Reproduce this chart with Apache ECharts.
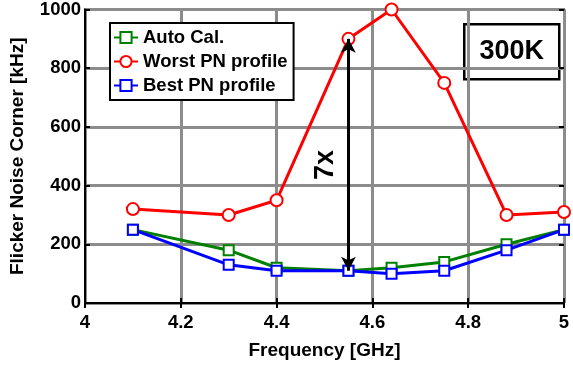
<!DOCTYPE html>
<html><head><meta charset="utf-8">
<script src="https://cdn.jsdelivr.net/npm/echarts@6/dist/echarts.min.js"></script>
<style>html,body{margin:0;padding:0;background:#fff}#c{width:573px;height:367px}</style>
</head><body><div id="c"></div>
<script>
const freqs = [4.1, 4.3, 4.4, 4.55, 4.64, 4.75, 4.88, 5.0];
const autoCal = [250, 180, 120, 110, 120, 140, 200, 250];
const worstPN = [320, 300, 350, 900, 1000, 750, 300, 310];
const bestPN  = [250, 130, 110, 110, 100, 110, 180, 250];
const seriesNames = ['Auto Cal.', 'Worst PN profile', 'Best PN profile'];
const arrowX = 4.55, arrowLow = 110, arrowHigh = 900;
const ratioLabel = '7x';
const tempLabel = '300K';

const FONT = '"Liberation Sans Narrow","Arial Narrow","Liberation Sans",Arial,sans-serif';
const chart = echarts.init(document.getElementById('c'));
const pair = arr => freqs.map((f, i) => [f, arr[i]]);
const grid = {left: 85, right: 9, top: 8, bottom: 64};
const tickLbl = {fontFamily: FONT, fontWeight: 'bold', fontSize: 18.5, color: '#000'};
function mkSeries(name, data, color, symbol, size, z) {
  return {name, type: 'line', data: pair(data), symbol, symbolSize: size, z,
    lineStyle: {width: 3, color}, itemStyle: {color, borderColor: color, borderWidth: 3}};
}
const s1 = mkSeries(seriesNames[0], autoCal, '#008000', 'emptyRect', 10, 3);
const s2 = mkSeries(seriesNames[1], worstPN, '#ff0000', 'emptyCircle', 12, 3);
const s3 = mkSeries(seriesNames[2], bestPN, '#0000ff', 'emptyRect', 10, 4);
s2.markLine = {
  silent: true, symbol: ['arrow', 'arrow'], symbolSize: [11, 14],
  lineStyle: {color: '#000', width: 3, type: 'solid'}, label: {show: false},
  data: [[{coord: [arrowX, arrowLow]}, {coord: [arrowX, arrowHigh]}]]
};
chart.setOption({
  animation: false,
  grid: Object.assign({show: true, borderColor: '#000', borderWidth: 2}, grid),
  xAxis: [{
    type: 'value', min: 4, max: 5, interval: 0.2,
    name: 'Frequency [GHz]', nameLocation: 'middle', nameGap: 38,
    nameTextStyle: {fontFamily: FONT, fontWeight: 'bold', fontSize: 19, color: '#000'},
    axisLine: {lineStyle: {color: '#000', width: 2}},
    axisTick: {inside: true, length: 5, lineStyle: {color: '#000', width: 2}},
    axisLabel: Object.assign({margin: 10, formatter: v => String(+v.toFixed(1))}, tickLbl),
    splitLine: {show: true, lineStyle: {color: '#8c8c8c', width: 3}}
  }, {
    type: 'value', min: 4, max: 5, interval: 0.2, position: 'top',
    axisLine: {show: false}, axisLabel: {show: false}, splitLine: {show: false},
    axisTick: {inside: true, length: 5, lineStyle: {color: '#000', width: 2}}
  }],
  yAxis: [{
    type: 'value', min: 0, max: 1000, interval: 200,
    name: 'Flicker Noise Corner [kHz]', nameLocation: 'middle', nameGap: 58,
    nameTextStyle: {fontFamily: FONT, fontWeight: 'bold', fontSize: 19, color: '#000'},
    axisLine: {show: true, lineStyle: {color: '#000', width: 2}},
    axisTick: {show: true, inside: true, length: 5, lineStyle: {color: '#000', width: 2}},
    axisLabel: Object.assign({margin: 4, formatter: v => String(v)}, tickLbl),
    splitLine: {show: true, lineStyle: {color: '#8c8c8c', width: 3}}
  }, {
    type: 'value', min: 0, max: 1000, interval: 200, position: 'right',
    axisLine: {show: false}, axisLabel: {show: false}, splitLine: {show: false},
    axisTick: {show: true, inside: true, length: 5, lineStyle: {color: '#000', width: 2}}
  }],
  legend: {
    orient: 'vertical', left: 110, top: 23,
    backgroundColor: '#fff', borderColor: '#000', borderWidth: 2,
    padding: [5, 6, 5, 3], itemGap: 5, itemWidth: 24, itemHeight: 14,
    textStyle: {fontFamily: FONT, fontWeight: 'bold', fontSize: 18.5, color: '#000'},
    data: seriesNames
  },
  series: [s1, s2, s3],
  graphic: [
    {type: 'text', left: 312, top: 150, rotation: Math.PI / 2, originX: 0, originY: 0,
     style: {text: ratioLabel, font: 'bold 27px ' + FONT, fill: '#000'}},
    {type: 'group', left: 463, top: 23, children: [
      {type: 'rect', shape: {x: 0, y: 0, width: 95, height: 55},
       style: {fill: '#fff', stroke: '#000', lineWidth: 2.5}},
      {type: 'text', x: 47.5, y: 27.5,
       style: {text: tempLabel, font: 'bold 27px ' + FONT, fill: '#000', align: 'center', verticalAlign: 'middle'}}
    ]}
  ]
});
</script></body></html>
